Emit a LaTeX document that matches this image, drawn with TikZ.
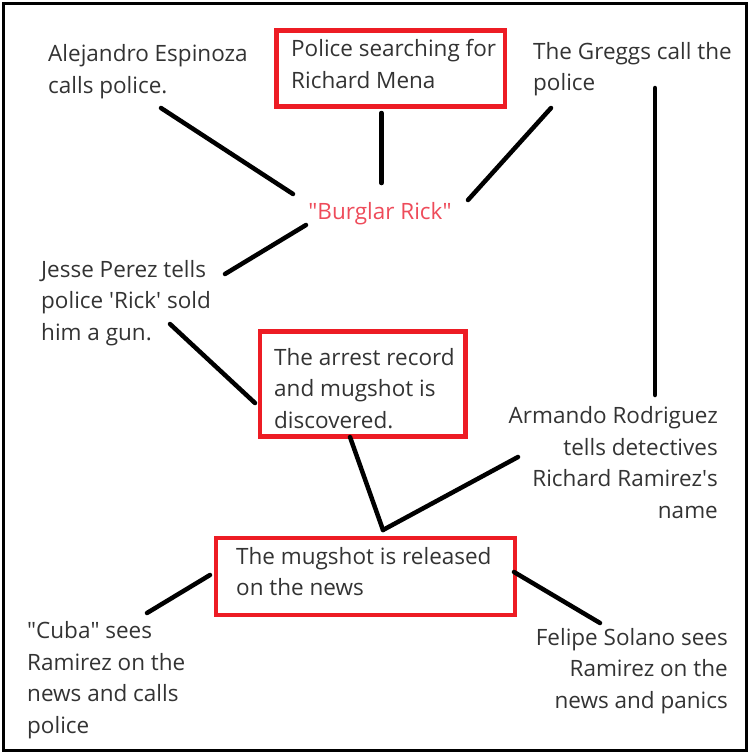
\documentclass[tikz,border=0pt]{standalone}
\usepackage{fontspec}
\setmainfont{Open Sans}
\definecolor{txt}{RGB}{51,51,51}
\definecolor{boxred}{RGB}{237,28,36}
\definecolor{rickred}{RGB}{238,75,90}
\begin{document}
\begin{tikzpicture}[x=1pt,y=-1pt,
  lbl/.style={inner sep=0pt, text=txt, font=\fontsize{22.5}{31.5}\selectfont},
  lblL/.style={lbl, anchor=base west, align=left},
  lblR/.style={lbl, anchor=base east, align=right},
  redbox/.style={draw=boxred, line width=4.5pt, inner sep=0pt, anchor=north west},
  link/.style={line width=4.5pt, line cap=round}]
\useasboundingbox (0,0) rectangle (748,753);
\draw[line width=3pt] (3,3) rectangle (746.5,750);

% boxes
\node[redbox, minimum width=228.5pt, minimum height=76pt] (box1) at (274,28) {};
\node[redbox, minimum width=205.5pt, minimum height=105pt] (box2) at (257.5,329) {};
\node[redbox, minimum width=299pt, minimum height=77pt] (box3) at (213.5,535.5) {};

% texts (anchor = baseline of the last line)
\node[lblL] (alej) at (48,93) {Alejandro Espinoza\\calls police.};
\node[lblL] (search) at (291,88) {Police searching for\\Richard Mena};
\node[lblL] (greggs) at (533,90.5) {The Greggs call the\\police};
\node[lbl, anchor=base, text=rickred] (rick) at (380,219) {\textquotedbl Burglar Rick\textquotedbl};
\node[lblL] (jesse) at (41,340) {Jesse Perez tells\\police \textquotesingle Rick\textquotesingle{} sold\\him a gun.};
\node[lblL] (arrest) at (274,428) {The arrest record\\and mugshot is\\discovered.};
\node[lblR] (armando) at (718,518) {Armando Rodriguez\\tells detectives\\Richard Ramirez\textquotesingle s\\name};
\node[lblL] (mugshot) at (236,595.5) {The mugshot is released\\on the news};
\node[lblL] (cuba) at (27,733) {\textquotedbl Cuba\textquotedbl{} sees\\Ramirez on the\\news and calls\\police};
\node[lblR] (felipe) at (728,708) {Felipe Solano sees\\Ramirez on the\\news and panics};

% connector ends
\coordinate (alejE) at (161,108);
\coordinate (rickNW) at (293,194);
\coordinate (box1S) at (381.5,113);
\coordinate (rickN) at (381.5,183);
\coordinate (greggsE) at (551,108);
\coordinate (rickNE) at (468,200);
\coordinate (rickSW) at (306,225);
\coordinate (jesseE) at (225,274);
\coordinate (jesseS) at (170,324);
\coordinate (box2W) at (255,403);
\coordinate (box2S) at (350,437);
\coordinate (box3N) at (383,530);
\coordinate (armandoW) at (518,457);
\coordinate (greggsS) at (655,88);
\coordinate (armandoN) at (655,395);
\coordinate (box3W) at (210,575);
\coordinate (cubaN) at (147,613);
\coordinate (box3E) at (514,572);
\coordinate (felipeN) at (600,623);

\draw[link] (alejE) -- (rickNW);
\draw[link] (box1S) -- (rickN);
\draw[link] (greggsE) -- (rickNE);
\draw[link] (rickSW) -- (jesseE);
\draw[link] (jesseS) -- (box2W);
\draw[link] (box2S) -- (box3N);
\draw[link] (box3N) -- (armandoW);
\draw[link] (greggsS) -- (armandoN);
\draw[link] (box3W) -- (cubaN);
\draw[link] (box3E) -- (felipeN);
\end{tikzpicture}
\end{document}
